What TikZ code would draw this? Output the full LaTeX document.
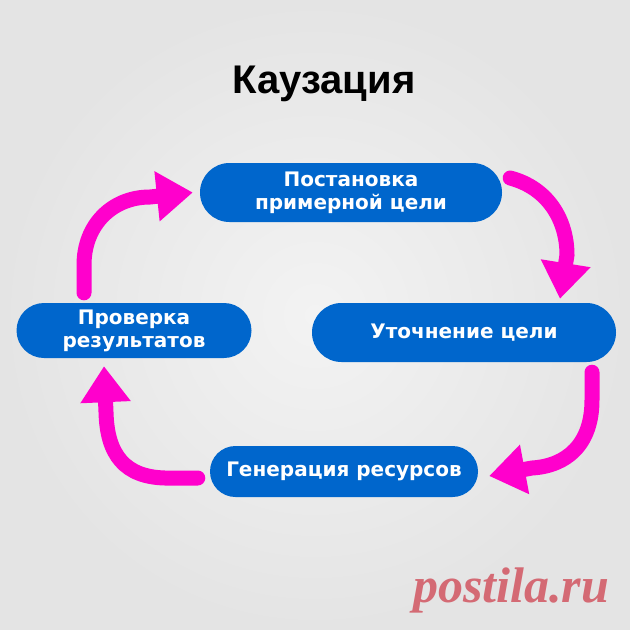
\documentclass[tikz,border=0pt]{standalone}
\usepackage{fontspec}
\setmainfont{DejaVu Sans}
\newfontfamily\titlefont{Liberation Sans}
\newfontfamily\markfont{Liberation Serif}
\usetikzlibrary{arrows.meta,shapes.misc}
\definecolor{stageblue}{RGB}{0,102,204}
\definecolor{cyclepink}{RGB}{255,0,204}
\definecolor{paperlight}{RGB}{243,243,243}
\definecolor{paperdark}{RGB}{228,228,228}
\definecolor{markred}{RGB}{212,106,116}

\begin{document}
\begin{tikzpicture}[x=1pt, y=-1pt,
  stage/.style={rounded rectangle, fill=stageblue, text=white, align=center, inner sep=0pt,
    font=\bfseries\fontsize{20}{23}\selectfont},
  loopline/.style={draw=cyclepink, line width=15pt, line cap=round,
    -{Triangle[length=36pt, width=48pt]}}]
  \useasboundingbox (0,0) rectangle (630,630);
  \shade[inner color=paperlight, outer color=paperdark] (0,0) rectangle (630,630);

  \node[anchor=base, inner sep=0pt] (title) at (324,93) {\titlefont\bfseries\fontsize{40}{40}\selectfont Каузация};

  \node[stage, minimum width=302pt, minimum height=59pt] (goal) at (351,192.5) {Постановка\\примерной цели};
  \node[stage, minimum width=304pt, minimum height=59pt] (refine) at (464,332.5) {Уточнение цели};
  \node[stage, minimum width=268pt, minimum height=51pt] (resources) at (344,471.5) {Генерация ресурсов};
  \node[stage, minimum width=235pt, minimum height=55pt] (check) at (134,330.5) {Проверка\\результатов};

  \draw[loopline] ([xshift=-50pt, yshift=10pt]check.north) -- (84,265)
    .. controls (84,225) and (112,197) .. (150,197) -- ([xshift=-7pt]goal.west);
  \draw[loopline] ([xshift=8pt, yshift=14.5pt]goal.east)
    .. controls (548,188) and (567,220) .. (567,255) -- ([xshift=96pt, yshift=4pt]refine.north);
  \draw[loopline] ([xshift=128pt, yshift=-10pt]refine.south) -- (592,400)
    .. controls (592,445) and (566,466) .. (532,468) -- ([xshift=11pt, yshift=-4.5pt]resources.east);
  \draw[loopline] ([xshift=-12pt, yshift=-6.5pt]resources.west) -- (165,478)
    .. controls (125,477) and (107,455) .. (106,412) -- ([xshift=-30pt, yshift=-8pt]check.south);

  \node[anchor=base west, inner sep=0pt, text=markred] (mark) at (413,602) {\markfont\bfseries\itshape\fontsize{50}{50}\selectfont postila.ru};
\end{tikzpicture}
\end{document}
